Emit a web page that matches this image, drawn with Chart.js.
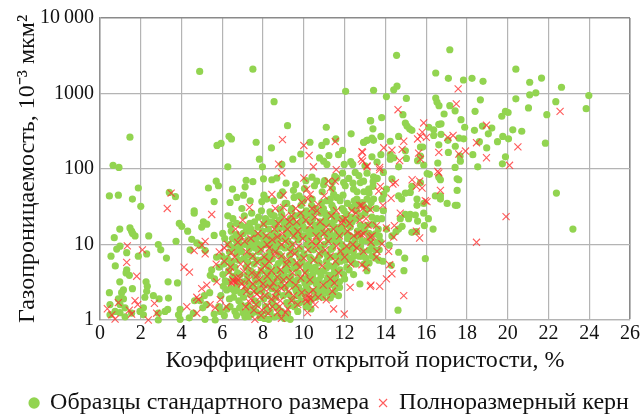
<!DOCTYPE html>
<html>
<head>
<meta charset="utf-8">
<style>
html, body { margin: 0; padding: 0; background: #fff; }
#wrap { width: 641px; height: 414px; }
</style>
<script src="https://cdn.jsdelivr.net/npm/chart.js@4/dist/chart.umd.min.js"></script>
</head>
<body>
<div id="wrap"><canvas id="poroChart"></canvas></div>
<script>
const seriesNames = ['Образцы стандартного размера', 'Полноразмерный керн'];
const xTicks = [0, 2, 4, 6, 8, 10, 12, 14, 16, 18, 20, 22, 24, 26];
const yTicks = [1, 10, 100, 1000, 10000];
const yTickLabels = ['1', '10', '100', '1000', '10\u2009000'];

// [пористость, проницаемость]
const standardSamples = [
  [4.89,1960],[7.5,2100],[12.05,1070],[8.54,780],[9.2,375],[11.1,357],[1.47,264],[6.33,271],[6.45,250],[5.74,205],[5.94,218],[7.66,226],[8.41,190],[7.82,135],[7.97,107],[9.46,135],[9.85,158],[10.3,226],[10.88,205],[11.1,230],[11.57,250],[12.32,292],[11.9,176],[11.7,155],[10.77,140],[11.23,151],[10.97,127],[11.13,115],[11.98,115],[12.3,125],[12.4,115],[12.93,226],[13.1,240],[13.26,437],[0.64,112],[0.93,105],[6.27,107],[8.92,115],
  [17.16,3800],[14.55,3200],[20.4,2100],[16.47,1870],[17.09,1590],[17.83,1510],[18.25,1590],[18.79,1450],[21.08,1410],[21.66,1600],[22.64,1210],[13.42,1100],[14.57,1250],[14.41,1120],[14.05,910],[15.03,860],[16.47,870],[16.53,770],[16.63,690],[17.16,690],[17.42,590],[18.66,825],[18.4,580],[20.4,850],[21.08,960],[21.38,1020],[22.36,780],[23.98,940],[23.85,630],[21.02,645],[21.92,525],[19.89,580],[20.02,560],[19.71,500],[14.86,525],[16.88,535],[13.82,480],[13.28,437],[17.71,450],[13.39,340],[14.98,407],[15.06,370],[15.19,340],[15.3,325],[16.13,357],[16.37,330],[16.62,390],[16.73,396],[17.89,357],[18.37,325],[18.76,370],[19.22,348],[19.05,292],[20.25,330],[20.69,316],[19.76,270],[20.04,251],[19.5,230],[21.85,220],[18.97,190],[18.61,230],[18.29,155],[19.89,145],[19.74,117],[18.53,107],[17.42,105],[17.68,127],[17.66,148],[17.43,200],[17.09,166],[16.62,209],[16.57,120],[17.84,251],[17.61,257],[17.07,240],[16.73,288],[16.37,278],[14.65,270],[14.24,233],[13.78,270],[13.34,257],[13.42,240],[13.1,240],[12.95,226],[15.72,195],[15.83,195],[14.98,174],[15.72,148],[15.58,129],[15.03,138],[14.65,107],[15.88,113],[14.24,155],[14.24,135],[14.41,141],[13.78,155],[13.59,123],[13.34,145],[13.0,110],
  [22.39,48],[23.2,16],[15.96,6.5],[14.62,1.35],[14.95,6.6],[14.91,4.5],[14.65,7.9],[14.29,5.3],[13.88,6],[13.67,6.2],[14.19,9.8],[16.34,16],[15.91,17.8],[16.11,22],[15.88,26],[17.43,33],[17.52,33],[17.03,35],[17.52,52],[16.7,40],[16.45,44],[16.7,44],[17.52,74],[17.6,72],[16.7,72],[16.62,78],[16.16,85],[16.05,87],[14.32,74],[15.3,59],[15.72,66],[14.98,48],[15.22,49],[15.55,40],[14.65,44],[14.8,40],[15.55,33],[15.88,35],[14.05,54],[13.92,46],[13.83,40],[13.42,40],[13.1,40],[13.18,54],[13.39,59],[13.42,79],[12.93,69],[14.98,25],[15.22,25],[14.73,22],[15.14,22],[15.47,24.5],[15.58,20.4],[13.82,22],[13.59,22],[13.34,23],[13.39,18.6],[14.82,17.4],[14.65,16],[15.3,14.5],[15.52,14.8],[14.52,14.8],[14.05,16],[14.32,13],[13.51,13.8],[13.26,11.7],[13.0,15],[13.59,10.7],[13.34,9.8],[13.1,11.2],[12.85,7],
  [0.46,44],[0.9,45],[1.59,40],[1.88,56],[2.0,32],[3.4,49],[3.7,43],[0.97,16],[1.47,16.6],[1.55,15],[1.72,13],[1.6,14],[2.39,13],[0.7,12.3],[0.98,9.5],[0.82,8.7],[0.54,7],[1.31,7.8],[1.88,7],[2.29,7.5],[2.86,10],[2.98,8.5],[3.26,6.6],[0.75,5.2],[1.31,4.6],[1.28,4.2],[1.44,3.9],[0.97,3.2],[1.59,2.6],[1.15,2.5],[1.06,2.3],[0.46,2.3],[2.26,3.2],[2.32,2.8],[2.29,2.4],[2.2,2.0],[2.62,2.1],[2.9,1.9],[3.36,1.95],[3.34,3.2],[3.8,3.1],[0.49,1.6],[0.9,1.9],[1.15,1.9],[0.98,1.6],[1.23,1.45],[0.74,1.3],[0.98,1.25],[0.49,1.17],[1.23,1.1],[1.55,1.23],[1.96,1.3],[2.13,1.45],[2.13,1.17],[2.86,1],[2.86,1.23],[3.19,1.3],[3.32,1.38],[3.93,1.38],[3.85,1.17],[3.93,1.02],[4.38,1.07],[4.58,1.23],[5.15,1.02],[5.65,1.0],[5.04,1.45],
  [3.89,19],[4.01,17.4],[4.3,15],[3.73,11],[4.42,8.5],[4.5,11.7],[4.75,10.5],[4.91,9.8],[5.16,8.3],[4.62,28],[4.62,26],[5.07,20],[4.99,17],[5.24,18.6],[5.6,13.2],[5.32,56],[5.7,69],[5.81,60],[5.6,37],[6.5,54],[6.27,24],[6.38,36],[6.71,42],[7.04,45],[7.17,71],[7.12,58],[7.5,68],[7.37,38],[8.02,74],[8.43,72],[8.67,76],[9.13,65],[9.49,52],[8.84,45],[8.18,40],[7.94,37],[9.16,35],[9.77,44],[9.98,38],[10.64,69],[10.97,62],[11.62,76],[11.95,66],[11.46,46],[11.3,40],[11.78,38],[12.44,54],[12.77,66],[12.6,40],[12.93,32],
  [6.02,14],[6.12,12],[6.33,10],[5.98,7],[6.08,5.5],[5.72,6.8],[5.84,5],[5.48,4.6],[5.41,3.9],[5.62,3.5],[6.03,4],[6.31,4.5],[6.52,3.8],[6.21,2.5],[5.93,2.1],[5.38,2.3],[5.12,2.1],[4.92,1.8],[4.64,1.8],[5.22,1.6],[5.83,1.5],[6.23,1.4],[6.62,1.3],[7.02,1.25],[6.81,1.8],
  [6.52,22],[6.44,15],[6.58,9],[6.71,7.5],[6.49,6],[6.62,5],[6.73,3.2],[6.42,2.6],[6.55,2],[6.38,1.5],
  [6.96,30],[7.08,24],[6.91,18],[7.03,14],[7.12,10],[6.94,8],[7.06,6.5],[7.17,5],[6.88,4],[7.01,3.2],[7.14,2.5],[7.04,2],[6.93,1.6],[7.2,1.3],[7.11,1.1],
  [7.44,26],[7.58,20],[7.41,16],[7.52,12],[7.63,9],[7.47,7],[7.56,5.5],[7.39,4.5],[7.61,3.5],[7.48,2.8],[7.36,2.2],[7.59,1.8],[7.51,1.4],[7.43,1.2],
  [8.04,45],[7.92,28],[8.12,22],[7.97,15],[8.06,11],[7.89,9],[8.15,7],[8.01,5.5],[7.91,4.5],[8.09,3.6],[8.16,2.9],[7.94,2.4],[8.03,1.9],[8.13,1.5],[7.88,1.2],[8.07,1.05],
  [8.52,38],[8.41,25],[8.61,18],[8.48,14],[8.37,11],[8.58,8.5],[8.45,6.5],[8.64,5],[8.39,4],[8.54,3.2],[8.43,2.6],[8.62,2],[8.51,1.6],[8.35,1.3],[8.56,1.1],
  [8.95,50],[9.08,35],[8.91,25],[9.03,20],[9.14,15],[8.97,12],[9.06,9],[8.88,7],[9.12,5.5],[9.01,4.2],[8.93,3.4],[9.09,2.7],[8.98,2.1],[9.16,1.7],[8.9,1.3],[9.04,1.05],
  [9.52,42],[9.41,30],[9.6,24],[9.46,17],[9.55,13],[9.38,10],[9.62,8],[9.44,6],[9.57,4.8],[9.36,3.8],[9.49,3],[9.63,2.4],[9.42,1.9],[9.54,1.5],
  [10.03,55],[9.92,40],[10.12,28],[9.96,21],[10.08,16],[9.89,13],[10.15,10],[10.01,7.5],[9.91,6],[10.1,4.5],[9.97,3.5],[10.14,2.8],[10.05,2.2],[9.9,1.8],[10.11,1.5],
  [10.52,60],[10.41,40],[10.6,30],[10.44,22],[10.57,18],[10.38,14],[10.63,11],[10.48,8.5],[10.36,6.5],[10.55,5],[10.43,4],[10.61,3],[10.5,2.4],[10.37,1.9],
  [11.02,70],[10.9,50],[11.13,38],[10.96,30],[11.08,22],[10.88,17],[11.15,13],[11.0,10],[10.92,8],[11.11,6],[10.98,4.5],[11.16,3.5],[11.05,2.6],[10.94,2],
  [11.52,80],[11.4,55],[11.62,42],[11.46,30],[11.58,24],[11.37,19],[11.64,15],[11.5,11],[11.41,9],[11.6,7],[11.47,5],[11.56,3.8],[11.44,2.2],
  [12.03,60],[11.92,45],[12.14,35],[11.97,28],[12.08,20],[11.89,15],[12.15,12],[12.01,9],[11.93,7],[12.11,5],[12.0,3.5],
  [12.52,90],[12.41,65],[12.61,50],[12.47,38],[12.58,28],[12.37,20],[12.63,15],[12.5,11],[12.43,8],[12.56,5.5],[12.44,4],
  [5.6,1.2],[5.9,1.3],[6.1,1.15],[6.35,1.9],[6.7,1.15],[6.85,1.45],[7.25,1.55],[7.3,1.12],[7.35,2.9],[7.65,1.28],[7.75,1.65],[7.8,2.6],[7.85,1.08],[8.2,1.3],[8.25,2.1],[8.28,1.02],[8.3,3.1],[8.45,1.75],[8.7,2.3],[8.72,1.45],[8.78,1.15],[8.8,2.9],[9.2,1.2],[9.25,2.2],[9.28,1.55],[9.3,3.0],[9.33,1.02],[9.7,1.3],[9.72,2.1],[9.75,2.7],[9.8,1.7],[10.2,2.5],[10.25,1.7],[10.3,3.2],[10.35,1.4],[10.7,2.3],[10.72,2.8],[10.75,3.4],[11.2,2.3],[11.25,2.9],[11.3,1.95],[11.7,2.1],[11.75,2.7],[11.35,3.9],
  [6.15,3.3],[6.25,6.5],[6.35,8],[6.42,5.5],[6.75,4.2],[6.8,6.2],[6.85,8.8],[6.9,9.9],[7.22,3.9],[7.25,5.8],[7.28,7.2],[7.32,4.4],[7.33,8.8],[7.7,3.2],[7.72,6.2],[7.75,4],[7.78,8],[7.8,10],[8.22,4.2],[8.26,5],[8.3,6.2],[8.33,7.8],[8.35,9.8],[8.7,3.6],[8.72,4.5],[8.75,5.6],[8.78,7.5],[8.82,9.5],[9.22,3.7],[9.25,4.6],[9.28,5.8],[9.3,7.2],[9.33,8.9],[9.7,3.4],[9.72,4.2],[9.76,5.3],[9.8,6.8],[9.84,8.8],[10.22,3.8],[10.25,5.4],[10.3,6.8],[10.33,8.6],[10.36,9.8],[10.72,4.4],[10.75,5.7],[10.78,7.2],[10.8,9.2],[11.22,3.9],[11.26,5.2],[11.3,6.8],[11.33,8.6],[11.75,3.2],[11.78,4.6],[11.8,6],[11.83,8],[11.86,10],[12.22,4.6],[12.26,6.5],[12.3,8.4],[12.33,10],[12.75,3],[12.72,7],[12.78,9.5],[12.85,11],[13.05,6.6],[13.2,8.4],[13.5,6.6],
  [7.25,11.5],[7.3,15],[7.35,19],[7.7,13],[7.75,17],[7.78,23],[8.22,12.5],[8.26,16],[8.3,20],[8.34,27],[8.7,10.5],[8.72,13],[8.76,16],[8.8,21],[8.84,29],[9.22,11],[9.26,14],[9.3,18],[9.34,22],[9.38,28],[9.72,11.5],[9.76,15],[9.8,19],[9.84,25],[9.86,33],[10.22,12],[10.26,15.5],[10.3,20],[10.34,25],[10.38,33],[10.72,12.5],[10.76,16],[10.8,20],[10.84,26],[10.88,36],[11.22,11.5],[11.26,15],[11.3,19],[11.34,25],[11.38,33],[11.72,11],[11.76,13.5],[11.8,17],[11.84,22],[11.88,30],[12.25,13],[12.28,17],[12.32,23],[12.36,31],[12.74,13],[12.78,18],[12.82,24],[12.86,36],[13.1,18],[13.3,36],[13.55,30],[13.7,13],[13.9,28],
  [11.4,68],[11.9,88],[12.2,75],[12.7,82],[13.1,88],[13.4,68],[13.6,75],[13.9,90],[12.95,50],[13.2,48],[10.4,78],[10.1,70],[9.6,62],
  [6.6,2.4],[6.9,2.3],[7.2,3.3],[6.3,3.2],[6.05,2.8],[6.7,2.7],[7.55,4.1],[7.7,2.4],[7.95,3.2],[7.98,6.3],[8.35,3.7],[8.6,2.8],[8.55,4.4],[8.9,3.9],[8.95,6.2],[9.1,4.8],[9.45,3.3],[9.5,5.4],[9.55,2.7],[9.65,1.65],[9.9,2.4],[10.05,3.1],[10.1,5.2],[10.45,3.5],[10.4,4.7],[10.6,2],[10.65,6.2],[10.85,3.9],[10.9,2.4],[11.05,3.1],[11.1,4.9],[11.15,7.2],[11.45,3.2],[11.55,2.6],[11.5,4.3],[11.6,5.6],[11.95,4],[12.05,6.2],[12.1,7.8],[12.4,5.8],[12.45,7],[12.6,9.5],[12.55,12.5],[12.9,8],[12.95,5.5],[13.1,4.5],[13.2,5.7],[13.35,7],[13.5,8.5],[13.7,8.5],[13.75,11],[13.2,14],[13.65,16],
  [6.5,12],[6.7,11],[6.85,12],[6.4,18],[6.7,13.5],[6.7,19],[7.15,17],[7.45,10],[7.55,14],[7.65,11],[7.95,12.5],[8.05,19],[8.15,9.9],[8.55,12],[8.6,10],[8.45,20],[8.55,24],[9,17],[9.1,19],[9.15,13],[9.45,20],[9.55,15],[9.6,18],[9.95,17.5],[10.05,24],[10.1,13],[10.5,16],[10.5,27],[10.65,14],[10.95,14.5],[11.1,19],[11.05,26],[11.45,13],[11.5,21],[11.55,17],[12,18],[12.1,25],[12.1,14],[12.55,22],[12.6,34],[12.95,16],[13,26],[13.2,30]
];

const fullCoreSamples = [
  [8.95,245],[10.0,205],[10.26,151],[11.54,231],[12.88,166],[12.88,127],[8.76,116],[10.47,107],[11.59,98],[13.1,107],
  [17.57,1150],[17.48,730],[14.62,610],[22.57,580],[15.88,407],[18.96,380],[15.81,308],[15.58,250],[15.72,270],[16.01,262],[17.06,262],[17.32,278],[18.47,223],[20.5,196],[14.9,233],[13.92,191],[14.32,178],[14.82,182],[15.63,162],[16.62,166],[17.6,158],[17.93,173],[18.96,141],[20.09,112],[15.72,135],[14.7,129],[13.72,105],[13.1,110],[12.85,170],[12.82,135],[16.57,93],
  [19.92,23.4],[18.47,10.7],[14.9,2.1],[14.32,4.1],[14.05,3.5],[13.72,2.8],[13.29,2.9],[14.21,5.4],[13.05,4.9],[12.85,5.4],[13.56,6.8],[13.59,8.1],[13.83,10.2],[14.16,8.1],[14.41,12.5],[15.68,12.2],[15.52,15],[14.44,17.8],[14.05,16.6],[13.56,17.8],[14.73,26],[13.88,33],[14.28,41],[13.26,29],[12.85,33],[16.04,37],[15.96,38],[16.7,52],[15.31,72],[15.68,69],[15.52,59],[15.8,56],[14.49,66],[14.37,63],[13.75,59],[13.67,51],[16.62,89],[13.72,98],[13.26,12.6],[12.93,13.8],[12.82,13.5],[12.93,8.1],[13.29,10.7],
  [0.36,1.41],[0.74,1.03],[0.58,1.17],[0.9,1.7],[1.34,9.6],[2.08,8.5],[1.31,5.8],[1.8,3.8],[1.72,1.8],[1.85,1.6],[1.44,1.35],[1.55,1.2],[2.37,1],[2.67,1.66],[2.78,1.23],[3.3,30],[3.49,48],[4.26,1.5],[4.12,5],[4.39,4.3],[5.48,25],[5.16,11],[5,9.8],[4.62,8.3],[5.16,7.5],[5.7,5.5],[4.75,2],[4.83,1.86],[4.99,2.6],[5.24,2.9],[5.73,3.2],[5.4,1.6],[5.65,1.45],[5.9,1.86],[6.2,1.5],[4.75,1.23],[6.25,10],[6.76,10.7],[7.33,31],[8.02,18.6],[8.43,46],[9,45],[9,31],[8.6,30],[10.15,54],[10.31,46],[10,76],[8.92,89],[11.54,69],[11.2,69],[11.46,1.4],[11.98,1.2],[10.18,1.25],[12.27,2.7],[13.26,2.8],
  [6.1,6],[6.4,5],[6.6,6.8],[6.9,5.5],[6.55,3.3],[6.7,3.2],[6.45,3.1],[6.85,3.6],[7.1,2.8],[7.3,3.4],[7.5,3],[7.7,3.9],[7.9,4.6],[8.1,5.2],[8.3,6],[8.05,2.6],[7.7,2.2],[7.4,1.9],[7.15,1.5],[7.55,1.35],[7.9,1.15],[8.2,1.55],[8.4,1.9],[8.65,2.4],[8.85,1.8],[9.05,2.9],[9.3,3.4],[9.5,2.1],[9.7,1.6],[8.7,1.25],[7.6,1.02],[8.9,1.05],[9.2,1.4],[7.2,8],[7.5,7],[7.9,8.6],[8.2,10],[8.45,11.5],[8.7,12.6],[8.95,14],[9.2,16],[9.5,13],[9.7,15],[9.95,12],[8.6,8],[8.9,7],[9.2,6.3],[9.55,7.5],[9.8,5],[10.05,4.2],[10.3,3.4],[10.45,2.5],[10.25,2.2],[10.1,1.9],[10.7,2],[10.95,2.9],[11.3,3.5],[11.5,3.1],[11.7,4.2],[10.6,9.6],[10.8,11],[11.05,8.5],[11.3,7],[11.55,6],[11.8,8.1],[12.1,9.5],[12.4,10],[12.6,9],[10.3,18],[10.55,23],[10.8,20],[11.1,17],[11.35,24],[11.6,28],[11.9,21],[12.25,19],[12.55,26],[12.75,33],[9.6,30],[9.9,36],[10.2,40],[10.7,34],[11,44],[11.3,56],
  [6.35,4.3],[6.5,3.4],[6.6,3.2],[6.7,3.6],[6.95,3],[7.05,4.4],[7.2,2.4],[7.25,5.2],[7.35,1.7],[7.45,4.2],[7.55,2.4],[7.65,1.6],[7.7,5.8],[7.8,3.4],[7.85,2],[7.95,1.35],[8.0,3],[8.05,6.8],[8.1,2.1],[8.2,3.8],[8.25,1.22],[8.35,2.7],[8.4,4.5],[8.45,1.5],[8.5,3.1],[8.55,7.2],[8.6,2],[8.7,3.7],[8.8,1.5],[8.85,4.6],[8.9,2.6],[9,3.4],[9.1,1.25],[9.15,5.5],[9.25,2.4],[9.35,8],[9.4,1.8],[9.45,4.2],[9.6,2.9],[9.65,5.8],[9.75,9.5],[9.85,3.6],[9.9,2.3],[10,6.6],[10.15,1.75],[10.2,8.5],[10.25,2],[10.35,1.9],[10.4,11],[10.5,6.2],[10.55,1.6],[10.6,13],[10.75,7.6],[10.9,5.2],[11,14],[11.1,1.85],[11.2,11],[11.4,2.4],[11.45,16],[11.6,9.5],[11.75,13],[11.85,19],[12,6.8],[12.05,22],[12.15,15],[12.3,5.5],[12.35,28],[12.45,13],[12.65,14],[12.75,21],[12.9,30],[13.05,22],[13.15,18],[13.35,13],[8.3,9],[8.55,16],[8.75,19],[8.9,10],[9.05,23],[9.1,11],[9.3,20],[9.4,24],[9.45,10],[9.65,20],[9.85,26],[10.1,21],[10.4,30],[10.65,28],[7.1,11],[7.4,12],[6.9,13],[6.65,16],[7,21],[6.1,9],[5.85,8],[6.45,7.8],[7.75,14],[8.15,13]
];

new Chart(document.getElementById('poroChart'), {
  type: 'scatter',
  data: {
    datasets: [{
      label: seriesNames[0],
      data: standardSamples.map(p => ({ x: p[0], y: p[1] })),
      order: 2,
      pointStyle: 'circle',
      pointRadius: 3.6,
      backgroundColor: '#92d450',
      borderColor: '#92d450',
      borderWidth: 0,
      clip: false
    }, {
      label: seriesNames[1],
      data: fullCoreSamples.map(p => ({ x: p[0], y: p[1] })),
      order: 1,
      pointStyle: 'crossRot',
      pointRadius: 5,
      backgroundColor: 'rgba(255,50,50,0.8)',
      borderColor: 'rgba(255,50,50,0.8)',
      borderWidth: 1.1,
      clip: false
    }]
  },
  options: {
    responsive: true,
    maintainAspectRatio: false,
    animation: false,
    layout: { padding: { left: 18, right: 0, top: 7, bottom: 0 } },
    scales: {
      x: {
        type: 'linear',
        min: 0,
        max: 26,
        afterBuildTicks: axis => { axis.ticks = xTicks.map(v => ({ value: v })); },
        afterFit: axis => { axis.height = 61; axis.paddingRight = 11; },
        ticks: { color: '#111', font: { family: 'Liberation Serif', size: 20 }, padding: 2, maxRotation: 0, autoSkip: false },
        grid: {
          color: c => c.tick && c.tick.value === 26 ? '#8a8a8a' : '#b4b4b4',
          lineWidth: c => c.tick && c.tick.value === 26 ? 1.6 : 1.2,
          drawTicks: false
        },
        border: { color: '#b4b4b4', width: 1.2 },
        title: { display: true, text: 'Коэффициент открытой пористости, %', color: '#111', font: { family: 'Liberation Serif', size: 24 }, padding: { top: 0, bottom: 6 } }
      },
      y: {
        type: 'logarithmic',
        min: 1,
        max: 10000,
        afterBuildTicks: axis => { axis.ticks = yTicks.map(v => ({ value: v })); },
        afterFit: axis => { axis.width = 82; },
        ticks: {
          color: '#111',
          font: { family: 'Liberation Serif', size: 20 },
          padding: 6,
          autoSkip: false,
          callback: value => yTickLabels[yTicks.indexOf(value)]
        },
        grid: {
          color: c => c.tick && c.tick.value === 10000 ? '#8a8a8a' : '#b4b4b4',
          lineWidth: c => c.tick && c.tick.value === 10000 ? 1.6 : 1.2,
          drawTicks: false
        },
        border: { color: '#909090', width: 1.5 },
        title: { display: true, text: 'Газопроницаемость, 10⁻³ мкм²', color: '#111', font: { family: 'Liberation Serif', size: 24 }, padding: { top: -5, bottom: 0 } }
      }
    },
    plugins: {
      tooltip: { enabled: false },
      legend: {
        position: 'bottom',
        maxHeight: 33,
        labels: {
          usePointStyle: true,
          color: '#111',
          font: { family: 'Liberation Serif', size: 24 },
          padding: 10,
          boxHeight: 8,
          boxWidth: 8,
          sort: (a, b) => a.datasetIndex - b.datasetIndex
        }
      }
    }
  }
});
</script>
</body>
</html>
